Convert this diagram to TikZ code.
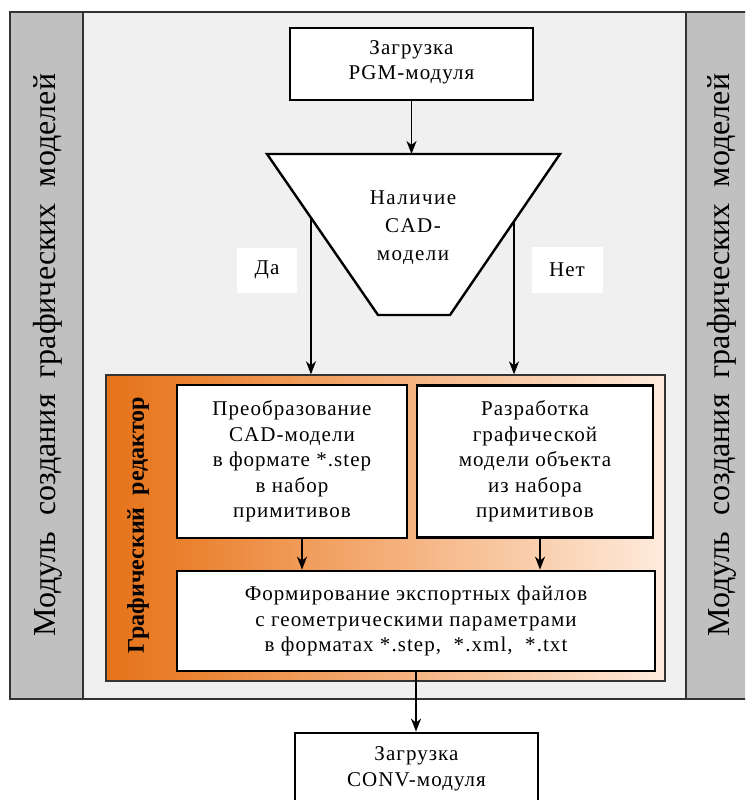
\documentclass[tikz,border=0pt]{standalone}
\usepackage{fontspec}
\setmainfont{Liberation Serif}
\newfontfamily\boxface{Liberation Serif}[LetterSpace=5]
\newfontfamily\decface{Liberation Serif}[LetterSpace=7]
\usetikzlibrary{arrows.meta,calc}

\definecolor{panelgray}{HTML}{C0C0C0}
\definecolor{fieldgray}{HTML}{F0F0F0}
\definecolor{framegray}{HTML}{333333}
\definecolor{orA}{HTML}{E5731A}
\definecolor{orB}{HTML}{EA812F}
\definecolor{orC}{HTML}{F4AE78}
\definecolor{orD}{HTML}{FAD3B4}
\definecolor{orE}{HTML}{FEEBDD}

% horizontal orange fade of the editor block (visible range 25bp..75bp)
\pgfdeclarehorizontalshading{editorshade}{100bp}{%
  color(0bp)=(orA); color(25bp)=(orA); color(32bp)=(orB);
  color(50bp)=(orC); color(65bp)=(orD); color(75bp)=(orE); color(100bp)=(orE)}

\newcommand\boxfont{\boxface\fontsize{21}{25.5}\selectfont}
\newcommand\decfont{\decface\fontsize{21}{28}\selectfont}
\newcommand\panelfont{\fontsize{32}{32}\selectfont}
\newcommand\editorfont{\bfseries\fontsize{24}{24}\selectfont}

\begin{document}
\begin{tikzpicture}[x=1pt,y=-1pt,
  box/.style={draw=black, line width=2.8pt, fill=white, align=center,
    font=\boxfont, inner sep=0pt},
  arr/.style={line width=1.8pt, -{Stealth[length=13pt,width=10pt,inset=4pt]}},
  tag/.style={fill=white, inner sep=0pt, font=\boxfont},
  paneltext/.style={font=\panelfont, rotate=90, inner sep=0pt},
  editor/.style={draw=framegray, line width=1.3pt, shading=editorshade,
    inner sep=0pt},
  thinline/.style={draw=framegray, line width=1.2pt}]

\useasboundingbox (0,0) rectangle (745,800);
\clip (0,0) rectangle (745,800);

% module frame with its two side panels
\fill[fieldgray] (10,12) rectangle (760,699);
\fill[panelgray] (10,12) rectangle (83,699);
\fill[panelgray] (686,12) rectangle (760,699);
\draw[thinline] (10,12) rectangle (760,699);
\draw[thinline] (83,12) -- (83,699);
\draw[thinline] (686,12) -- (686,699);

\node[paneltext] (leftlabel) at (48,355)
  {Модуль\ \ создания\ \ графических\ \ моделей};
\node[paneltext] (rightlabel) at (722,355)
  {Модуль\ \ создания\ \ графических\ \ моделей};

% loading of the PGM module
\node[box, minimum width=243pt, minimum height=72pt, text depth=8pt] (pgm) at (411.5,64)
  {Загрузка\\PGM-модуля};

% decision: is a CAD model available
\coordinate (tl) at (267,154);
\coordinate (tr) at (560,154);
\coordinate (br) at (450,315);
\coordinate (bl) at (378,315);
\draw[line width=2.4pt, fill=white, line join=miter] (tl) -- (tr) -- (br) -- (bl) -- cycle;
\node[font=\decfont, align=center] (dec) at (413,228) {Наличие\\CAD-\\модели};

\draw[arr] (pgm.south) -- (pgm.south |- tl);

% graphic editor block
\node[editor, minimum width=559pt, minimum height=306pt] (ed) at (385.5,528) {};
\node[font=\editorfont, rotate=90, inner sep=0pt] (edlabel) at (138,525)
  {Графический\ \ редактор};

\node[box, minimum width=230pt, minimum height=153pt] (conv) at (292,461.5)
  {Преобразование\\CAD-модели\\в формате *.step\\в набор\\примитивов};
\node[box, minimum width=236pt, minimum height=152pt] (dev) at (535,461.5)
  {Разработка\\графической\\модели объекта\\из набора\\примитивов};
\node[box, minimum width=478pt, minimum height=100pt] (fmt) at (416,621)
  {Формирование экспортных файлов\\с геометрическими параметрами\\в форматах *.step,\ \ *.xml,\ \ *.txt};

% yes / no branches
\coordinate (yesstart) at ($(tl)!0.396!(bl)$);
\coordinate (nostart) at ($(tr)!0.418!(br)$);
\draw[arr] (yesstart) -- (yesstart |- ed.north);
\draw[arr] (nostart) -- (nostart |- ed.north);
\node[tag, minimum width=60pt, minimum height=45pt] (yes) at (267,270) {Да};
\node[tag, minimum width=71pt, minimum height=46pt] (no) at (567,270) {Нет};

\draw[arr] ([xshift=10pt]conv.south) -- ([xshift=10pt]conv.south |- fmt.north);
\draw[arr] ([xshift=5pt]dev.south) -- ([xshift=5pt]dev.south |- fmt.north);

% loading of the CONV module
\node[box, minimum width=243pt, minimum height=72pt] (cnv) at (416.5,769)
  {Загрузка\\CONV-модуля};
\draw[arr] (fmt.south) -- (fmt.south |- cnv.north);

\end{tikzpicture}
\end{document}
